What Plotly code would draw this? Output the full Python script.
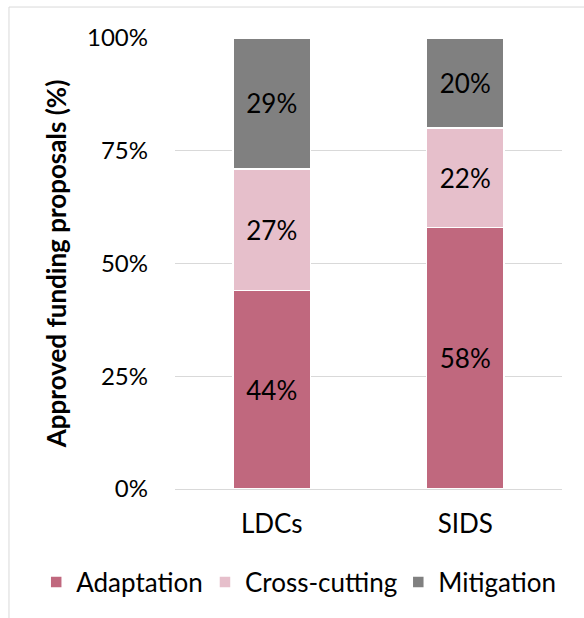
import plotly.graph_objects as go

groups = ["LDCs", "SIDS"]
series_names = ["Adaptation", "Cross-cutting", "Mitigation"]
adaptation = [44, 58]
cross_cutting = [27, 22]
mitigation = [29, 20]
tick_vals = [0, 25, 50, 75, 100]
tick_text = ["0%", "25%", "50%", "75%", "100%"]

colors = ["#c0687e", "#e6bfcb", "#808080"]
font_family = "Lato, 'Open Sans', sans-serif"

# one legend box per series so the three entries sit on a single row
legend_ids = ["legend", "legend2", "legend3"]
legend_x = [0.062, 0.351, 0.682]

fig = go.Figure()
for name, vals, col, lid in zip(series_names, [adaptation, cross_cutting, mitigation], colors, legend_ids):
    fig.add_trace(go.Bar(
        x=groups, y=vals, name=name, legend=lid,
        marker=dict(color=col, line=dict(color="white", width=1.5)),
        text=[f"{v}%" for v in vals],
        textposition="inside", insidetextanchor="middle",
        textfont=dict(size=26, color="black", family=font_family),
        constraintext="none",
    ))

legend_common = dict(orientation="h", xref="container", xanchor="left",
                     yref="container", y=0.058, yanchor="middle",
                     font=dict(size=26), itemwidth=30, bgcolor="rgba(0,0,0,0)")

fig.update_layout(
    barmode="stack",
    bargap=0.6,
    width=584, height=618,
    margin=dict(l=175, r=22, t=38, b=129, autoexpand=False),
    paper_bgcolor="white", plot_bgcolor="white",
    font=dict(family=font_family, size=24, color="black"),
    showlegend=True,
    legend=dict(x=legend_x[0], **legend_common),
    legend2=dict(x=legend_x[1], **legend_common),
    legend3=dict(x=legend_x[2], **legend_common),
    uniformtext=dict(minsize=8, mode="show"),
    shapes=[dict(type="rect", xref="paper", yref="paper",
                 x0=-0.429, x1=1.2, y0=-0.4, y1=1.0687,
                 line=dict(color="#d9d9d9", width=1), fillcolor="rgba(0,0,0,0)", layer="below")],
)
fig.update_yaxes(range=[0, 100], tickvals=tick_vals, ticktext=tick_text,
                 showgrid=True, gridcolor="#d9d9d9", gridwidth=1,
                 zeroline=False, showline=False, ticks="", ticklabelstandoff=26,
                 tickfont=dict(size=24), automargin=False,
                 title=dict(text="<b>Approved funding proposals (%)</b>", font=dict(size=26), standoff=12))
fig.update_xaxes(showline=True, linecolor="#d9d9d9", ticks="", tickfont=dict(size=26),
                 ticklabelstandoff=12, automargin=False)

fig.write_html("out.html")
